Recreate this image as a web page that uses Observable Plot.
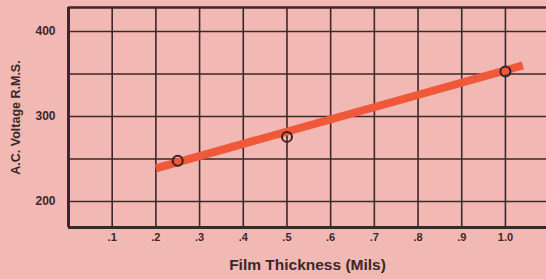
<!DOCTYPE html>
<html>
<head>
<meta charset="utf-8">
<script src="https://cdn.jsdelivr.net/npm/d3@7"></script>
<script src="https://cdn.jsdelivr.net/npm/@observablehq/plot@0.6"></script>
<style>
  html, body { margin: 0; padding: 0; background: #f2b8b3; }
  #chart svg { display: block; }
  g[aria-label="x-axis label"] text { font-size: 15.5px; }
  g[aria-label="y-axis label"] text { font-size: 12.5px; }
  g[aria-label="y-axis tick label"] text { font-size: 12px; }
  g[aria-label="x-axis tick label"] text { font-size: 11px; }
</style>
</head>
<body>
<div id="chart"></div>
<script>
// Measured points
const thickness = [0.25, 0.5, 1.0];
const voltage = [248, 276, 353];
// Fitted line endpoints
const fitThickness = [0.2, 1.04];
const fitVoltage = [239, 360];
// Grid / ticks
const xGrid = [0.1, 0.2, 0.3, 0.4, 0.5, 0.6, 0.7, 0.8, 0.9, 1.0];
const xTickLabels = [".1", ".2", ".3", ".4", ".5", ".6", ".7", ".8", ".9", "1.0"];
const yGrid = [200, 250, 300, 350, 400];
const yTicks = [200, 300, 400];

const points = thickness.map((t, i) => ({t, v: voltage[i]}));
const fit = fitThickness.map((t, i) => ({t, v: fitVoltage[i]}));
const ink = "#3a282a";
const yMin = 169.4, yMax = 428.2;

const chart = Plot.plot({
  width: 546,
  height: 279,
  marginLeft: 68,
  marginRight: 0,
  marginTop: 7,
  marginBottom: 52,
  style: {background: "transparent", fontFamily: "'Liberation Sans', Arial, sans-serif", fontWeight: "bold", color: ink, fontSize: "10px"},
  x: {domain: [0, 1.094]},
  y: {domain: [yMin, yMax]},
  marks: [
    Plot.ruleX(xGrid, {stroke: ink, strokeWidth: 1.6}),
    Plot.ruleY(yGrid, {stroke: ink, strokeWidth: 1.6}),
    Plot.ruleX([0], {stroke: ink, strokeWidth: 3}),
    Plot.ruleY([yMin], {stroke: ink, strokeWidth: 3}),
    Plot.ruleY([yMax], {stroke: ink, strokeWidth: 2.5}),
    Plot.line(fit, {x: "t", y: "v", stroke: "#f0583a", strokeWidth: 8, strokeLinecap: "butt"}),
    Plot.dot(points, {x: "t", y: "v", r: 5, stroke: "#3a2022", strokeWidth: 2, fill: "none"}),
    Plot.axisX({ticks: xGrid, tickFormat: (d, i) => xTickLabels[i], tickSize: 0, tickPadding: 6,
      label: "Film Thickness (Mils)", labelAnchor: "center", labelArrow: "none", labelOffset: 42, fill: ink}),
    Plot.axisY({ticks: yTicks, tickSize: 0, tickPadding: 13,
      label: "A.C. Voltage R.M.S.", labelAnchor: "center", labelArrow: "none", labelOffset: 57, fill: ink})
  ]
});
document.getElementById("chart").append(chart);
</script>
</body>
</html>
